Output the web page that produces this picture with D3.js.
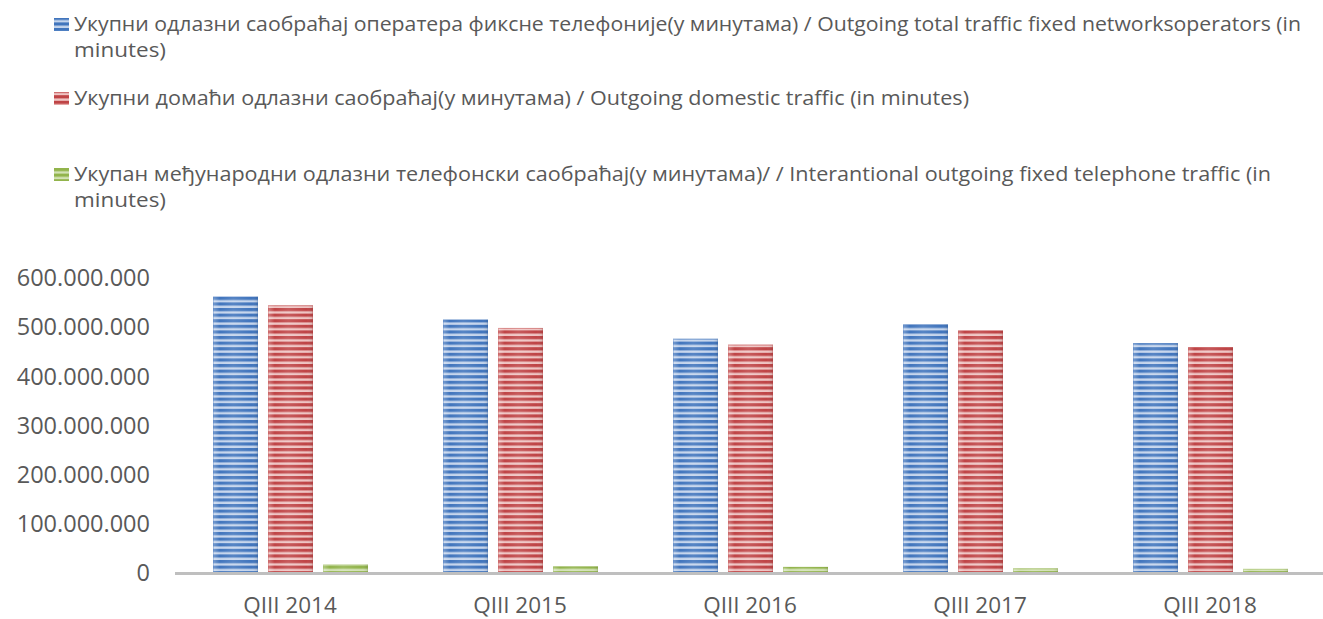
<!DOCTYPE html>
<html>
<head>
<meta charset="utf-8">
<script src="https://cdn.jsdelivr.net/npm/d3@7"></script>
<style>
  body { margin: 0; background: #fff; }
  svg { display: block; }
</style>
</head>
<body>
<div id="chart"></div>
<script>
// Data
const categories = ["QIII 2014", "QIII 2015", "QIII 2016", "QIII 2017", "QIII 2018"];
const totalTraffic = [563000000, 516000000, 477000000, 507000000, 468000000];
const domesticTraffic = [545000000, 499000000, 465000000, 494000000, 460000000];
const internationalTraffic = [18000000, 14000000, 13000000, 10000000, 9000000];
const yTicks = [0, 100000000, 200000000, 300000000, 400000000, 500000000, 600000000];

const seriesNames = [
    ["Укупни одлазни саобраћај оператера фиксне телефоније(у минутама) / Outgoing total traffic fixed networksoperators (in", "minutes)"],
    ["Укупни домаћи одлазни саобраћај(у минутама) / Outgoing domestic traffic  (in minutes)"],
    ["Укупан међународни одлазни телефонски саобраћај(у минутама)/  / Interantional outgoing fixed telephone traffic (in", "minutes)"]
];
const seriesValues = [totalTraffic, domesticTraffic, internationalTraffic];

const width = 1323, height = 619;
const textColor = "#595959";
const palette = [
    { dark: "#4175bd", light: "#c4d4ec" },
    { dark: "#bf4446", light: "#efc4c3" },
    { dark: "#92b44c", light: "#d3e2b6" }
];

const svg = d3.select("#chart").append("svg")
    .attr("width", width)
    .attr("height", height);

const defs = svg.append("defs");

// Striped fills, one per series
palette.forEach((c, i) => {
    const p = defs.append("pattern")
        .attr("id", "stripe" + i)
        .attr("patternUnits", "userSpaceOnUse")
        .attr("width", 8)
        .attr("height", 5.6);
    p.append("rect").attr("width", 8).attr("height", 5.6).attr("fill", c.light);
    p.append("rect").attr("y", 0).attr("width", 8).attr("height", 3.2).attr("fill", c.dark);
});

// soft cylinder-like shading across each bar
const shade = defs.append("linearGradient").attr("id", "shade")
    .attr("x1", "0%").attr("x2", "100%").attr("y1", "0%").attr("y2", "0%");
shade.append("stop").attr("offset", "0%").attr("stop-color", "#fff").attr("stop-opacity", 0.3);
shade.append("stop").attr("offset", "15%").attr("stop-color", "#fff").attr("stop-opacity", 0.0);
shade.append("stop").attr("offset", "45%").attr("stop-color", "#fff").attr("stop-opacity", 0.12);
shade.append("stop").attr("offset", "85%").attr("stop-color", "#fff").attr("stop-opacity", 0.0);
shade.append("stop").attr("offset", "100%").attr("stop-color", "#000").attr("stop-opacity", 0.12);

// Scales
const x0 = d3.scaleBand().domain(categories).range([175, 1325]).paddingInner(0).paddingOuter(0);
const x1 = d3.scaleBand().domain(d3.range(3)).range([38, 193]).paddingInner(0.182).paddingOuter(0);
const y = d3.scaleLinear().domain([0, 600000000]).range([573.3, 278.3]);

const locale = d3.formatLocale({ decimal: ",", thousands: ".", grouping: [3], currency: ["", ""] });
const fmt = locale.format(",d");

// Y axis labels (no axis line)
const yAxis = d3.axisLeft(y).tickValues(yTicks).tickFormat(fmt).tickSize(0).tickPadding(0);
const yg = svg.append("g").attr("transform", "translate(150,0)").call(yAxis);
yg.select(".domain").remove();
yg.selectAll("text")
    .attr("fill", textColor)
    .style("font-family", "'Open Sans', sans-serif")
    .style("font-size", "23.5px");

// Bars
const groups = svg.append("g").selectAll("g")
    .data(categories)
    .join("g")
    .attr("transform", d => `translate(${x0(d)},0)`);

groups.selectAll("g.bar")
    .data((d, ci) => seriesValues.map((vals, si) => ({ si, v: vals[ci] })))
    .join("g")
    .attr("class", "bar")
    .each(function (d) {
        const g = d3.select(this);
        const bx = x1(d.si), bw = x1.bandwidth();
        const top = y(d.v), h = 572 - top;
        g.append("rect").attr("x", bx).attr("y", top).attr("width", bw).attr("height", h)
            .attr("fill", `url(#stripe${d.si})`);
        g.append("rect").attr("x", bx).attr("y", top).attr("width", bw).attr("height", h)
            .attr("fill", "url(#shade)");
        g.append("rect").attr("x", bx + 0.5).attr("y", top + 0.5).attr("width", bw - 1).attr("height", h - 1)
            .attr("fill", "none").attr("stroke", palette[d.si].dark).attr("stroke-opacity", 0.3);
    });

// X axis
const xAxis = d3.axisBottom(x0).tickSize(0).tickPadding(0);
const xg = svg.append("g").attr("transform", "translate(0,573.5)").call(xAxis);
xg.select(".domain").remove();
xg.selectAll("text")
    .attr("y", 39)
    .attr("dy", 0)
    .attr("fill", textColor)
    .style("font-family", "'Open Sans', sans-serif")
    .style("font-size", "22.5px");

svg.append("line")
    .attr("x1", 175).attr("x2", width)
    .attr("y1", 573.5).attr("y2", 573.5)
    .attr("stroke", "#bfbfbf").attr("stroke-width", 3);

// Legend
const legendTop = [31, 105, 181];
const lineWidths = [[1227, 92], [895], [1197, 92]];
const legend = svg.append("g");
seriesNames.forEach((lines, i) => {
    const base = legendTop[i];
    legend.append("rect").attr("x", 54).attr("y", base - 13).attr("width", 15).attr("height", 13)
        .attr("fill", `url(#stripe${i})`);
    lines.forEach((t, k) => {
        legend.append("text")
            .attr("x", 74)
            .attr("y", base + k * 26)
            .attr("fill", textColor)
            .attr("textLength", lineWidths[i][k])
            .attr("lengthAdjust", "spacingAndGlyphs")
            .style("font-family", "'Open Sans', sans-serif")
            .style("font-size", "20px")
            .text(t);
    });
});
</script>
</body>
</html>
